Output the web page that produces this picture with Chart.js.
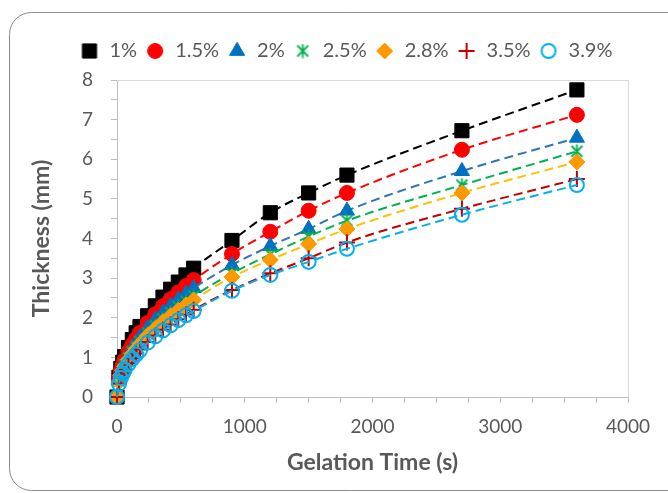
<!DOCTYPE html>
<html lang="en">
<head>
<meta charset="UTF-8">
<script src="https://cdn.jsdelivr.net/npm/chart.js@4.4.0/dist/chart.umd.min.js"></script>
<title>Gelation Thickness</title>
<style>
  body { margin: 0; background: #fff; }
  #wrap { width: 668px; height: 493px; }
</style>
</head>
<body>
<div id="wrap"><canvas id="thickness"></canvas></div>
<script>
// gelation time (s)
const times = [0, 15, 30, 45, 60, 90, 120, 150, 180, 240, 300, 360, 420, 480, 540, 600, 900, 1200, 1500, 1800, 2700, 3600];
const seriesNames = ['1%', '1.5%', '2%', '2.5%', '2.8%', '3.5%', '3.9%'];

// thickness (mm)
const c10 = [0, 0.50, 0.72, 0.88, 1.02, 1.25, 1.45, 1.62, 1.78, 2.05, 2.30, 2.52, 2.72, 2.90, 3.08, 3.25, 3.95, 4.65, 5.15, 5.60, 6.72, 7.75];
const c15 = [0, 0.46, 0.66, 0.80, 0.93, 1.14, 1.32, 1.47, 1.62, 1.87, 2.09, 2.29, 2.47, 2.64, 2.80, 2.95, 3.61, 4.17, 4.70, 5.15, 6.24, 7.12];
const c20 = [0, 0.43, 0.61, 0.75, 0.87, 1.06, 1.23, 1.37, 1.50, 1.74, 1.95, 2.13, 2.30, 2.46, 2.61, 2.75, 3.33, 3.81, 4.24, 4.70, 5.70, 6.54];
const c25 = [0, 0.40, 0.57, 0.70, 0.81, 0.99, 1.14, 1.27, 1.40, 1.61, 1.80, 1.97, 2.13, 2.28, 2.42, 2.55, 3.12, 3.60, 4.05, 4.45, 5.35, 6.20];
const c28 = [0, 0.38, 0.55, 0.67, 0.77, 0.94, 1.09, 1.22, 1.34, 1.55, 1.73, 1.90, 2.05, 2.19, 2.32, 2.45, 3.03, 3.46, 3.86, 4.24, 5.15, 5.93];
const c35 = [0, 0.34, 0.49, 0.60, 0.69, 0.85, 0.98, 1.10, 1.20, 1.39, 1.55, 1.70, 1.83, 1.96, 2.08, 2.20, 2.70, 3.12, 3.50, 3.90, 4.75, 5.50];
const c39 = [0, 0.33, 0.48, 0.59, 0.68, 0.83, 0.96, 1.07, 1.18, 1.37, 1.53, 1.68, 1.81, 1.94, 2.06, 2.17, 2.68, 3.08, 3.41, 3.74, 4.60, 5.35];

const xTicks = [0, 1000, 2000, 3000, 4000];
const yTicks = [0, 1, 2, 3, 4, 5, 6, 7, 8];

// excel style asterisk marker
function asterisk(color, s) {
  const cv = document.createElement('canvas');
  cv.width = s; cv.height = s;
  const g = cv.getContext('2d');
  g.strokeStyle = color;
  g.lineWidth = 1.8;
  g.beginPath();
  g.moveTo(2, 2); g.lineTo(s - 2, s - 2);
  g.moveTo(s - 2, 2); g.lineTo(2, s - 2);
  g.moveTo(s / 2, 0.5); g.lineTo(s / 2, s - 0.5);
  g.stroke();
  return cv;
}

const allValues = [c10, c15, c20, c25, c28, c35, c39];
const lineColors = ['#000000', '#ff0000', '#2e75b6', '#00b050', '#ffc000', '#c00000', '#00b0f0'];
const markColors = ['#000000', '#ff0000', '#0070c0', '#00b050', '#ff9900', '#c00000', '#00b0f0'];
const styles = ['rect', 'circle', 'triangle', asterisk('#00b050', 15), 'rectRot', 'cross', 'circle'];
const radii = [10, 7.5, 8.7, 7, 8, 8, 7];
const fills = markColors.map((c, i) => i === 6 ? 'rgba(0,0,0,0)' : c);
const borderW = [1, 1, 1, 1, 1, 2, 2];

// legend marker drawn at the same size as on the plot
function legendMark(i) {
  const cv = document.createElement('canvas');
  cv.width = 20; cv.height = 20;
  const g = cv.getContext('2d');
  g.fillStyle = fills[i];
  g.strokeStyle = markColors[i];
  g.lineWidth = borderW[i];
  Chart.helpers.drawPoint(g, { pointStyle: styles[i], radius: radii[i], rotation: 0, borderWidth: borderW[i] }, 10, 10);
  return cv;
}

const datasets = seriesNames.map((name, i) => ({
  label: name,
  data: times.map((t, k) => ({ x: t, y: allValues[i][k] })),
  showLine: true,
  cubicInterpolationMode: 'monotone',
  borderColor: lineColors[i],
  borderWidth: 2,
  borderDash: [9, 5],
  pointStyle: styles[i],
  pointRadius: radii[i],
  pointHoverRadius: radii[i],
  pointBackgroundColor: fills[i],
  pointBorderColor: markColors[i],
  pointBorderWidth: borderW[i],
  clip: false,
  order: 6 - i
}));

const frame = {
  id: 'frame',
  afterInit(chart) {
    const lg = chart.legend;
    const fit = lg.fit.bind(lg);
    lg.fit = function () { fit(); this.height = 47; };
  },
  beforeDraw(chart) {
    const ctx = chart.ctx;
    ctx.save();
    ctx.fillStyle = '#fff';
    ctx.fillRect(0, 0, chart.width, chart.height);
    ctx.strokeStyle = '#8c8c8c';
    ctx.lineWidth = 1;
    ctx.beginPath();
    ctx.roundRect(9.5, 12.5, 700, 478, 22);
    ctx.stroke();
    ctx.restore();
  },
  beforeDatasetsDraw(chart) {
    const { ctx, chartArea: a } = chart;
    ctx.save();
    ctx.strokeStyle = '#d9d9d9';
    ctx.lineWidth = 1;
    ctx.beginPath();
    ctx.moveTo(a.left, a.top + 0.5);
    ctx.lineTo(a.right + 0.5, a.top + 0.5);
    ctx.lineTo(a.right + 0.5, a.bottom);
    ctx.stroke();
    ctx.restore();
  }
};

Chart.defaults.font.family = 'Lato';
Chart.defaults.color = '#595959';
const baseLabels = Chart.defaults.plugins.legend.labels.generateLabels;

new Chart(document.getElementById('thickness'), {
  type: 'scatter',
  data: { datasets: datasets },
  options: {
    responsive: true,
    maintainAspectRatio: false,
    animation: false,
    layout: { padding: { top: 33, left: 24, right: 0, bottom: 13 } },
    plugins: {
      legend: {
        position: 'top',
        labels: {
          usePointStyle: true,
          boxHeight: 13,
          padding: 8,
          font: { size: 20 },
          color: '#595959',
          generateLabels(chart) {
            return baseLabels(chart)
              .sort((a, b) => a.datasetIndex - b.datasetIndex)
              .map(item => Object.assign(item, { pointStyle: legendMark(item.datasetIndex) }));
          }
        }
      },
      tooltip: { enabled: false }
    },
    scales: {
      x: {
        type: 'linear',
        min: 0,
        max: 4000,
        afterFit(scale) { scale.height = 83; scale.paddingRight = 40; },
        ticks: {
          stepSize: 250,
          autoSkip: false,
          maxRotation: 0,
          padding: 12,
          font: { size: 19 },
          callback: v => xTicks.includes(v) ? v : ''
        },
        grid: { drawOnChartArea: false, color: '#bfbfbf', tickLength: 6 },
        border: { color: '#bfbfbf' },
        title: { display: true, text: 'Gelation Time (s)', font: { size: 23, weight: 'bold' }, color: '#595959' }
      },
      y: {
        type: 'linear',
        min: 0,
        max: 8,
        afterFit(scale) { scale.width = 93; },
        ticks: {
          stepSize: 0.5,
          autoSkip: false,
          padding: 18,
          font: { size: 19 },
          callback: v => yTicks.includes(v) ? v : ''
        },
        grid: { drawOnChartArea: false, color: '#bfbfbf', tickLength: 6 },
        border: { color: '#bfbfbf' },
        title: { display: true, text: 'Thickness (mm)', font: { size: 23, weight: 'bold' }, color: '#595959' }
      }
    }
  },
  plugins: [frame]
});
</script>
</body>
</html>
